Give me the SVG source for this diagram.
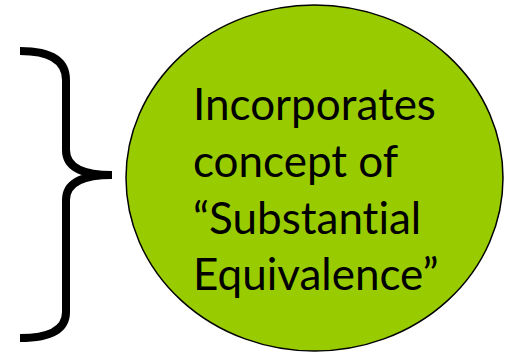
<svg xmlns="http://www.w3.org/2000/svg" width="506" height="354" viewBox="0 0 506 354">
<style>
.lbl{font-family:"Lato","Open Sans","Liberation Sans",sans-serif;font-size:44px;fill:#000;font-variant-ligatures:none;font-feature-settings:"liga" 0}
</style>
<rect width="506" height="354" fill="#fff"/>
<g id="brace">
<path d="M20,51 C50,51 66,60 66,80 L66,150 C66,166 80,175 112,175 C80,175 66,184 66,200 L66,312 C66,330 50,338 20,338" fill="none" stroke="#000" stroke-width="8"/>
</g>
<g id="circle">
<ellipse cx="314.5" cy="178" rx="188.5" ry="173" fill="#99CC00" stroke="#000" stroke-width="1.5"/>
<text class="lbl" x="193" y="120">Incorporates</text>
<text class="lbl" x="193" y="177">concept of</text>
<text class="lbl" x="193" y="234">“Substantial</text>
<text class="lbl" x="193" y="290">Equivalence”</text>
</g>
</svg>
